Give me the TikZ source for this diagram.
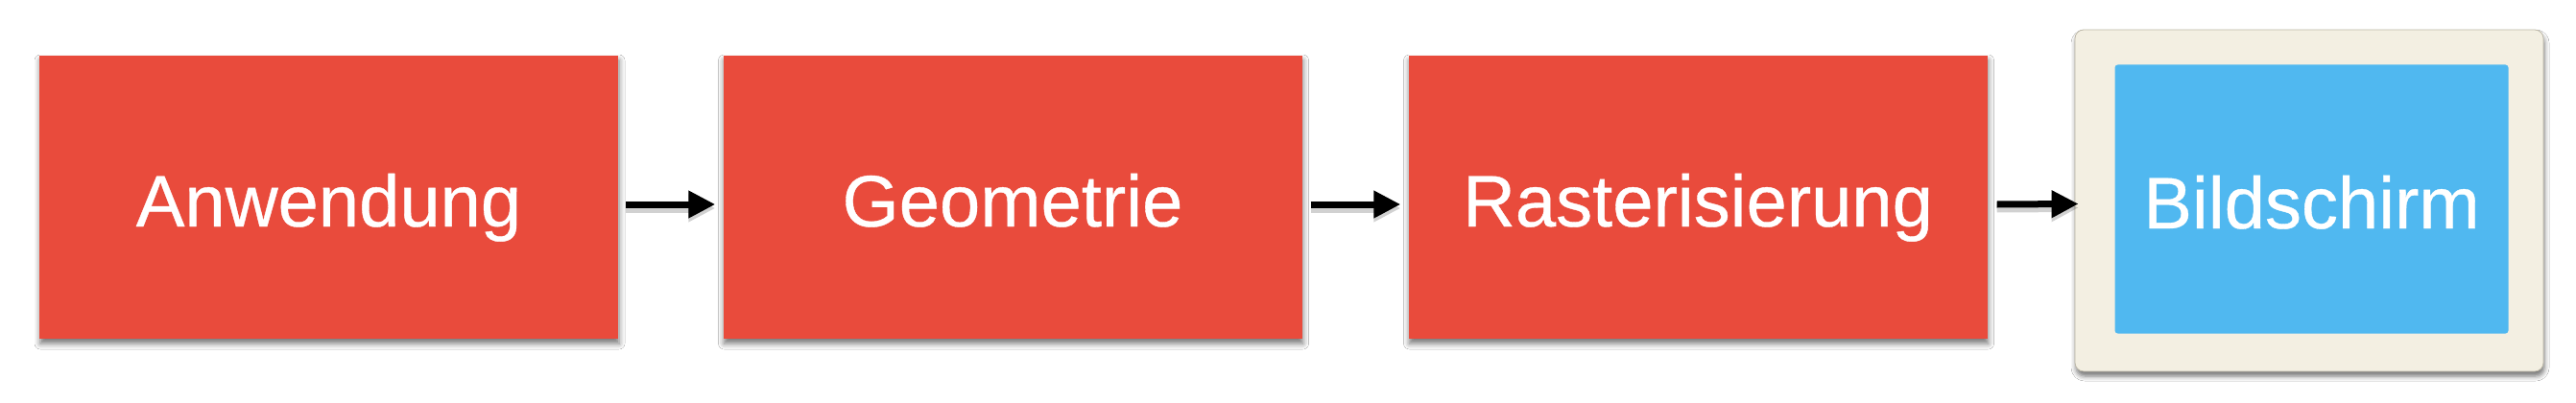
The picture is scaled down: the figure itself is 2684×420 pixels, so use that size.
\documentclass[tikz,border=0pt]{standalone}
\usepackage{fontspec}
\setmainfont{Liberation Sans}
\newfontface\lblfont{Liberation Sans}[FakeBold=0.5]
\usetikzlibrary{arrows.meta,shadows.blur}
\definecolor{boxred}{HTML}{E94B3C}
\definecolor{screenblue}{HTML}{50B8F0}
\definecolor{cream}{HTML}{F3EFE2}
\definecolor{creamedge}{HTML}{BDB8A8}
\begin{document}
\begin{tikzpicture}[x=1pt,y=-1pt,
  stage/.style={fill=boxred, minimum width=603pt, minimum height=295pt, inner sep=0pt,
    text=white, font=\lblfont\fontsize{76}{90}\selectfont, text height=61pt, text depth=0pt,
    blur shadow={shadow xshift=1pt, shadow yshift=-5pt, shadow blur radius=6pt, shadow opacity=55}},
  frame/.style={fill=cream, draw=creamedge, line width=0.8pt, rounded corners=9pt,
    minimum width=488pt, minimum height=356pt, inner sep=0pt,
    blur shadow={shadow xshift=1pt, shadow yshift=-5pt, shadow blur radius=5pt, shadow opacity=55}},
  screen/.style={fill=screenblue, rounded corners=3pt, minimum width=410pt, minimum height=280pt,
    inner sep=0pt, text=white, font=\lblfont\fontsize{76}{90}\selectfont, text height=61pt, text depth=0pt},
  arr/.style={line width=7pt, -{Triangle[length=28pt,width=27pt]}, black,
    preaction={draw=black, opacity=0.18, line width=9pt, transform canvas={yshift=-4pt}}}
]
\useasboundingbox[fill=white] (0,0) rectangle (2684,420);
\node[stage] (a) at (342.5,205.5) {Anwendung};
\node[stage] (b) at (1055,205.5) {Geometrie};
\node[stage] (c) at (1769,205.5) {Rasterisierung};
\node[frame] (f) at (2406,209) {};
\node[screen] (s) at (2408.5,207.5) {Bildschirm};
\draw[arr] ([xshift=8pt,yshift=-7.5pt]a.east) -- ([xshift=-8pt,yshift=-7.5pt]b.west);
\draw[arr] ([xshift=9pt,yshift=-7.5pt]b.east) -- ([xshift=-8pt,yshift=-7.5pt]c.west);
\draw[arr] ([xshift=10pt,yshift=-7.5pt]c.east) -- ([xshift=4pt,yshift=-3.5pt]f.west);
\end{tikzpicture}
\end{document}
